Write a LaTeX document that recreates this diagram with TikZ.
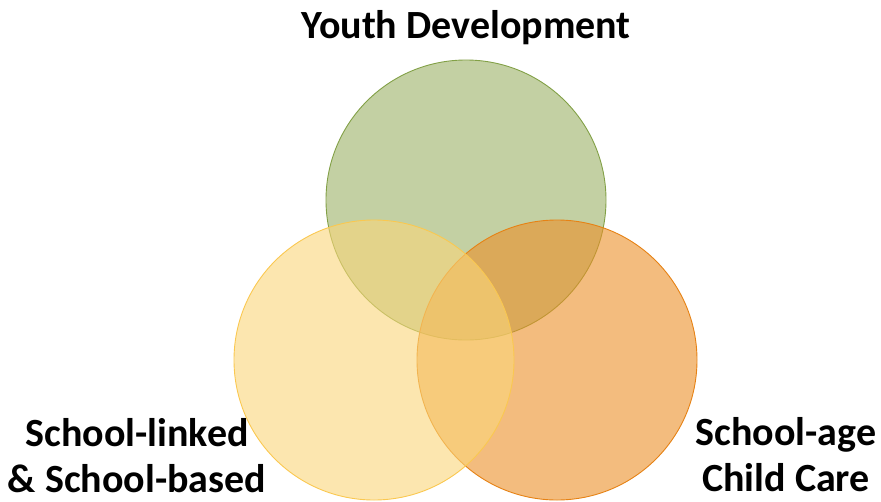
\documentclass[tikz,border=0pt]{standalone}
\usepackage{fontspec}
\setmainfont{Carlito}
\definecolor{gfill}{RGB}{155,177,102}
\definecolor{gline}{RGB}{130,160,70}
\definecolor{yfill}{RGB}{250,214,122}
\definecolor{yline}{RGB}{250,200,80}
\definecolor{ofill}{RGB}{235,143,40}
\definecolor{oline}{RGB}{230,130,20}
\begin{document}
\begin{tikzpicture}[x=1pt,y=-1pt,
  venn/.style={circle, minimum size=280pt, inner sep=0pt, line width=0.9pt, fill opacity=0.6},
  lab/.style={font=\bfseries\fontsize{40}{46}\selectfont, align=center, inner sep=0pt, anchor=base}]
\useasboundingbox (0,0) rectangle (881,501);
\node[venn, fill=gfill, draw=gline] (green) at (466,200) {};
\node[venn, fill=ofill, draw=oline] (orange) at (557,360) {};
\node[venn, fill=yfill, draw=yline] (yellow) at (374,360) {};
\node[lab] (yd) at (466,38) {Youth Development};
\node[lab] (sl) at (137,492) {School-linked\\ \& School-based};
\node[lab] (sa) at (786,491) {School-age\\ Child Care};
\end{tikzpicture}
\end{document}
